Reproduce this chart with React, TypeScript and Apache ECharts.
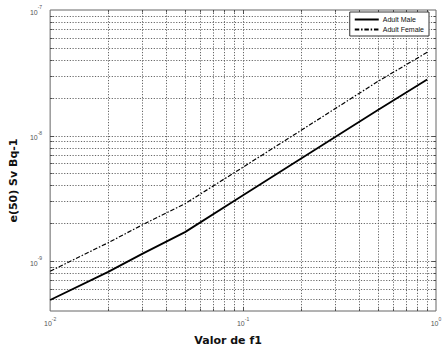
import React, { useEffect, useRef } from "react";
import * as echarts from "echarts";

const f1Values = [0.01, 0.02, 0.03, 0.05, 0.1, 0.2, 0.5, 0.9];
const adultMale = [4.9e-10, 8.2e-10, 1.14e-9, 1.7e-9, 3.34e-9, 6.55e-9, 1.6e-8, 2.8e-8];
const adultFemale = [8.3e-10, 1.4e-9, 1.94e-9, 2.86e-9, 5.6e-9, 1.1e-8, 2.7e-8, 4.6e-8];

const xMin = 0.01;
const xMax = 1;
const yMin = 4e-10;
const yMax = 1e-7;

const xMajorGrid = [0.1];
const xMinorGrid = [0.02, 0.03, 0.04, 0.05, 0.06, 0.07, 0.08, 0.09, 0.2, 0.3, 0.4, 0.5, 0.6, 0.7, 0.8, 0.9];
const yMajorGrid = [1e-9, 1e-8];
const yMinorGrid = [
  5e-10, 6e-10, 7e-10, 8e-10, 9e-10,
  2e-9, 3e-9, 4e-9, 5e-9, 6e-9, 7e-9, 8e-9, 9e-9,
  2e-8, 3e-8, 4e-8, 5e-8, 6e-8, 7e-8, 8e-8, 9e-8,
];

const FONT = "'Liberation Sans', Arial, sans-serif";
const TITLE_FONT = "'DejaVu Sans', sans-serif";
const GRID_COLOR = "#555";
const TICK_COLOR = "#444";

function powLabel(v: number): string {
  const e = Math.log10(v);
  const r = Math.round(e);
  if (Math.abs(e - r) > 1e-6) return "";
  return "{b|10}{s|" + String(r) + "}";
}

const richLabel = {
  b: { fontSize: 7, color: "#555", fontFamily: FONT, lineHeight: 11, verticalAlign: "bottom" },
  s: { fontSize: 5, color: "#555", fontFamily: FONT, lineHeight: 11, verticalAlign: "top" },
};

export default function App() {
  const ref = useRef<HTMLDivElement>(null);
  useEffect(() => {
    if (!ref.current) return;
    const chart = echarts.init(ref.current, undefined, { renderer: "svg" });

    const gridStyle = { stroke: GRID_COLOR, lineWidth: 0.9, lineDash: [1.2, 1.6] };
    const tickStyle = { stroke: TICK_COLOR, lineWidth: 0.9 };

    const xGridData = [
      ...xMajorGrid.map((v) => [v, yMin, 1]),
      ...xMinorGrid.map((v) => [v, yMin, 0]),
    ];
    const yGridData = [
      ...yMajorGrid.map((v) => [xMin, v, 1]),
      ...yMinorGrid.map((v) => [xMin, v, 0]),
    ];

    chart.setOption({
      animation: false,
      backgroundColor: "#fff",
      grid: {
        left: 36,
        right: 12,
        top: 10,
        bottom: 44,
        show: true,
        borderColor: "#666",
        borderWidth: 1,
        backgroundColor: "#fff",
      },
      legend: {
        orient: "vertical",
        right: 19,
        top: 12,
        data: ["Adult Male", "Adult Female"],
        backgroundColor: "#fff",
        borderColor: "#333",
        borderWidth: 1,
        borderRadius: 0,
        padding: [4, 5, 3, 4],
        itemGap: 3,
        itemWidth: 24,
        itemHeight: 8,
        itemStyle: { opacity: 0 },
        textStyle: { fontSize: 7, fontFamily: FONT, color: "#111", padding: [0, 0, 0, -1] },
      },
      xAxis: {
        type: "log",
        logBase: 10,
        min: xMin,
        max: xMax,
        name: "Valor de f1",
        nameLocation: "middle",
        nameGap: 24,
        nameTextStyle: {
          fontSize: 11,
          fontWeight: "bold",
          fontFamily: TITLE_FONT,
          color: "#111",
          padding: [0, 30, 0, 0],
        },
        axisLine: { show: false },
        axisTick: { show: false },
        splitLine: { show: false },
        minorTick: { show: false },
        axisLabel: { margin: 5, formatter: powLabel, rich: richLabel },
      },
      yAxis: {
        type: "log",
        logBase: 10,
        min: yMin,
        max: yMax,
        name: "e(50) Sv Bq-1",
        nameLocation: "middle",
        nameGap: 21,
        nameTextStyle: {
          fontSize: 11,
          fontWeight: "bold",
          fontFamily: TITLE_FONT,
          color: "#111",
          padding: [0, 40, 0, 0],
        },
        axisLine: { show: false },
        axisTick: { show: false },
        splitLine: { show: false },
        minorTick: { show: false },
        axisLabel: { margin: 8, formatter: powLabel, rich: richLabel },
      },
      series: [
        {
          type: "custom",
          name: "xgrid",
          silent: true,
          z: 1,
          encode: { x: 0, y: 1 },
          data: xGridData,
          renderItem: (params: any, api: any) => {
            const cs = params.coordSys;
            const p = api.coord([api.value(0), api.value(1)]);
            const len = api.value(2) === 1 ? 4 : 2.5;
            const x = Math.round(p[0]) + 0.5;
            return {
              type: "group",
              children: [
                { type: "line", shape: { x1: x, y1: cs.y, x2: x, y2: cs.y + cs.height }, style: gridStyle },
                { type: "line", shape: { x1: x, y1: cs.y + cs.height, x2: x, y2: cs.y + cs.height - len }, style: tickStyle },
                { type: "line", shape: { x1: x, y1: cs.y, x2: x, y2: cs.y + len }, style: tickStyle },
              ],
            };
          },
        },
        {
          type: "custom",
          name: "ygrid",
          silent: true,
          z: 1,
          encode: { x: 0, y: 1 },
          data: yGridData,
          renderItem: (params: any, api: any) => {
            const cs = params.coordSys;
            const p = api.coord([api.value(0), api.value(1)]);
            const len = api.value(2) === 1 ? 4 : 2.5;
            const y = Math.round(p[1]) + 0.5;
            return {
              type: "group",
              children: [
                { type: "line", shape: { x1: cs.x, y1: y, x2: cs.x + cs.width, y2: y }, style: gridStyle },
                { type: "line", shape: { x1: cs.x, y1: y, x2: cs.x + len, y2: y }, style: tickStyle },
                { type: "line", shape: { x1: cs.x + cs.width, y1: y, x2: cs.x + cs.width - len, y2: y }, style: tickStyle },
              ],
            };
          },
        },
        {
          type: "line",
          name: "Adult Male",
          data: f1Values.map((x, i) => [x, adultMale[i]]),
          showSymbol: false,
          symbol: "none",
          z: 3,
          lineStyle: { color: "#000", width: 1.8, type: "solid" },
          itemStyle: { color: "#000" },
        },
        {
          type: "line",
          name: "Adult Female",
          data: f1Values.map((x, i) => [x, adultFemale[i]]),
          showSymbol: false,
          symbol: "none",
          z: 3,
          lineStyle: { color: "#000", width: 1.2, type: [4.5, 1.8, 1.5, 1.8] },
          itemStyle: { color: "#000" },
        },
      ],
    });
    return () => chart.dispose();
  }, []);
  return <div ref={ref} style={{ width: 448, height: 355, position: "absolute", left: 0, top: 0 }} />;
}
